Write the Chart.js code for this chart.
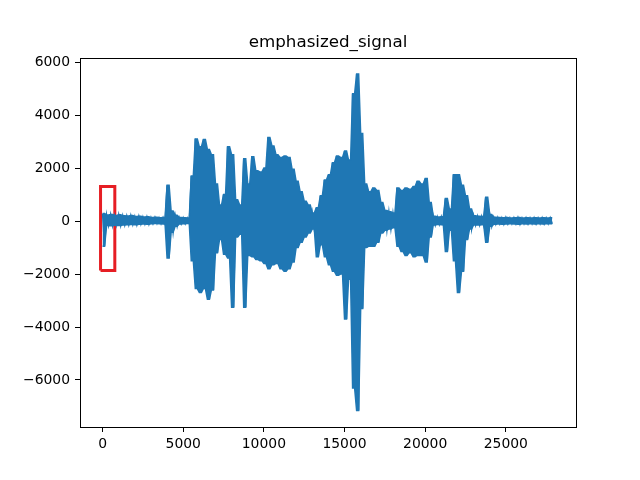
<!DOCTYPE html>
<html>
<head>
<meta charset="utf-8" />
<script src="https://cdn.jsdelivr.net/npm/chart.js@4/dist/chart.umd.min.js"></script>
<style>
  html, body { margin: 0; padding: 0; background: #fff; }
  .wrap { width: 640px; height: 480px; }
</style>
</head>
<body>
<div class="wrap"><canvas class="signal-chart" width="640" height="480"></canvas></div>
<script>
// samples per envelope bin (max / min of each bin)
const BIN = 250;
const upperEnvelope = [
  280, 230, 250, 210, 240, 200, 190, 210, 170, 180, 150, 160, 130, 140, 120, 130,
  1350, 380, 220, 130, 120, 110, 1700, 3100, 2800, 3080, 2700, 2500, 1400, 600,
  1000, 2800, 2500, 800, 600, 2350, 1400, 2430, 1900, 1850, 2000, 3150, 2830, 2500,
  2400, 2450, 2400, 1950, 1500, 1100, 750, 600, 300, 500, 950, 1550, 1750, 2200,
  2450, 2400, 2640, 2300, 4800, 5550, 3300, 1400, 1100, 1250, 1150, 700, 400, 350,
  300, 1250, 1150, 1250, 1200, 1300, 1500, 1400, 1600, 700, 180, 150, 160, 850,
  450, 1750, 1750, 1350, 950, 450, 200, 180, 170, 900, 250, 140, 130, 120, 130,
  110, 120, 130, 110, 120, 110, 120, 110, 120, 110, 120,
];
const lowerEnvelope = [
  -950, -170, -180, -160, -170, -150, -140, -130, -140, -120, -110, -120, -100, -90, -100, -110,
  -1400, -420, -200, -110, -100, -90, -1500, -2550, -2700, -2550, -2950, -2600, -1200, -700,
  -1250, -1400, -3250, -600, -500, -3250, -1300, -1350, -1450, -1500, -1600, -1800, -1650, -1600,
  -1800, -1900, -1800, -1550, -1000, -800, -600, -450, -300, -1350, -900, -1350, -1650, -1900,
  -2050, -2000, -3700, -2200, -6300, -7150, -3300, -1000, -950, -950, -800, -450, -350, -300,
  -250, -950, -1150, -1300, -1200, -1350, -1300, -1300, -1550, -600, -150, -130, -140, -1150,
  -350, -1500, -2700, -1900, -700, -300, -150, -150, -140, -800, -200, -120, -110, -120, -110,
  -100, -110, -120, -100, -110, -100, -110, -100, -110, -100, -100,
];
const xTickValues = [0, 5000, 10000, 15000, 20000, 25000];
const yTickValues = [-6000, -4000, -2000, 0, 2000, 4000, 6000];
const boxX = [-125, 760];
const boxY = [-1870, 1300];

const LINE_COLOR = '#1f77b4';
const FONT = 'DejaVu Sans';

// each bin drawn as a short flat run at its max (or min)
const edge = values =>
  values.flatMap((v, i) => [
    { x: i * BIN, y: v },
    { x: i * BIN + BIN / 2, y: v },
  ]);

// max/min alternation inside the band for the waveform texture
const zigzag = () =>
  upperEnvelope.flatMap((hi, i) => [
    { x: i * BIN, y: hi },
    { x: i * BIN + BIN / 2, y: lowerEnvelope[i] },
  ]);

const boxPoints = [
  { x: boxX[0], y: boxY[0] },
  { x: boxX[1], y: boxY[0] },
  { x: boxX[1], y: boxY[1] },
  { x: boxX[0], y: boxY[1] },
  { x: boxX[0], y: boxY[0] },
];

const fmt = v => (v < 0 ? '\u2212' + Math.abs(v) : String(v));

// top and right spines
const frame = {
  id: 'frame',
  afterDraw(chart) {
    const { ctx, chartArea: a } = chart;
    ctx.save();
    ctx.strokeStyle = '#000';
    ctx.lineWidth = 1;
    ctx.strokeRect(Math.round(a.left) + 0.5, Math.round(a.top) + 0.5, Math.round(a.right - a.left), Math.round(a.bottom - a.top));
    ctx.restore();
  },
};

const lineSet = (data, color, width, fill = false) => ({
  data,
  borderColor: color,
  backgroundColor: color,
  borderWidth: width,
  pointRadius: 0,
  tension: 0,
  fill,
});

const config = {
  type: 'line',
  data: {
    datasets: [
      lineSet(edge(upperEnvelope), LINE_COLOR, 1.5, '+1'),
      lineSet(edge(lowerEnvelope), LINE_COLOR, 1.5),
      lineSet(zigzag(), LINE_COLOR, 1.5),
      { ...lineSet(boxPoints, 'rgb(230,30,36)', 3), borderJoinStyle: 'miter' },
    ],
  },
  options: {
    responsive: false,
    animation: false,
    events: [],
    layout: { padding: { left: 0, right: 64, top: 0, bottom: 0 } },
    plugins: {
      legend: { display: false },
      tooltip: { enabled: false },
      title: {
        display: true,
        text: 'emphasized_signal',
        fullSize: false,
        color: '#000',
        font: { family: FONT, size: 16.7, weight: 'normal' },
        padding: { top: 33, bottom: 5 },
      },
    },
    scales: {
      x: {
        type: 'linear',
        min: -1398,
        max: 29348,
        afterFit(scale) {
          scale.height = 53;
        },
        afterBuildTicks(scale) {
          scale.ticks = xTickValues.map(value => ({ value }));
        },
        grid: { display: true, drawOnChartArea: false, drawTicks: true, tickLength: 5, color: '#000' },
        border: { display: true, color: '#000', width: 1 },
        ticks: {
          color: '#000',
          padding: 4,
          maxRotation: 0,
          autoSkip: false,
          font: { family: FONT, size: 13.9 },
          callback: fmt,
        },
      },
      y: {
        type: 'linear',
        min: -7774,
        max: 6151,
        afterFit(scale) {
          scale.width = 80;
        },
        afterBuildTicks(scale) {
          scale.ticks = yTickValues.map(value => ({ value }));
        },
        grid: { display: true, drawOnChartArea: false, drawTicks: true, tickLength: 5, color: '#000' },
        border: { display: true, color: '#000', width: 1 },
        ticks: {
          color: '#000',
          padding: 5,
          autoSkip: false,
          font: { family: FONT, size: 13.9 },
          callback: fmt,
        },
      },
    },
  },
  plugins: [frame],
};

(() => new Chart(document.querySelector('.signal-chart'), config))();
</script>
</body>
</html>
